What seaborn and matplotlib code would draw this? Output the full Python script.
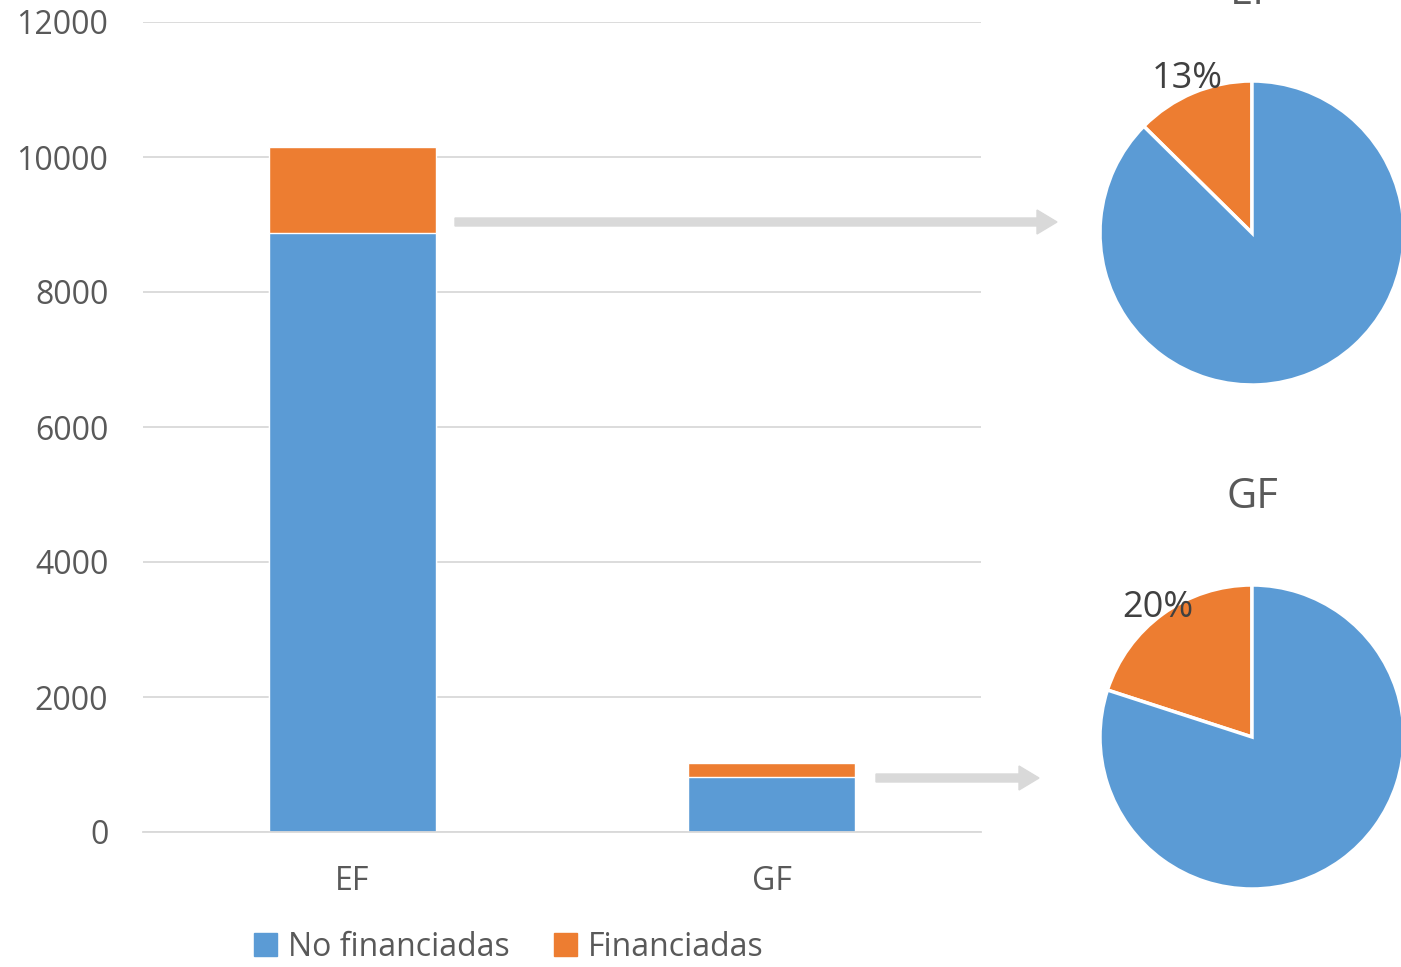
import matplotlib
matplotlib.use('Agg')
import matplotlib.pyplot as plt
import seaborn as sns
from matplotlib.patches import Patch, FancyArrow
from matplotlib.transforms import IdentityTransform

categories = ['EF', 'GF']
no_financiadas = [8870, 820]
financiadas = [1280, 205]
yticks = [0, 2000, 4000, 6000, 8000, 10000, 12000]

BLUE = '#5B9BD5'
ORANGE = '#ED7D31'
GREY = '#595959'

sns.set_style('white')
plt.rcParams['font.family'] = ['Open Sans', 'DejaVu Sans']

fig = plt.figure(figsize=(14.01, 9.67), dpi=100)

# stacked bars
ax = fig.add_axes([143/1401, 135/967, 838/1401, 810/967])
totals = [a + b for a, b in zip(no_financiadas, financiadas)]
sns.barplot(x=categories, y=totals, color=ORANGE, width=0.4, saturation=1, ax=ax)
sns.barplot(x=categories, y=no_financiadas, color=BLUE, width=0.4, saturation=1, ax=ax)
ax.set_xlim(-0.5, 1.5)
ax.set_ylim(0, 12000)
ax.set_yticks(yticks)
ax.set_yticklabels([str(t) for t in yticks])
ax.yaxis.grid(True, color='#D9D9D9', linewidth=1.3)
ax.set_axisbelow(True)
for s in ['top', 'right', 'left']:
    ax.spines[s].set_visible(False)
ax.spines['bottom'].set_color('#D9D9D9')
ax.spines['bottom'].set_linewidth(1.3)
ax.tick_params(axis='y', length=0, pad=25, labelsize=23, labelcolor=GREY)
ax.tick_params(axis='x', length=0, pad=24, labelsize=23, labelcolor=GREY)

fig.legend(handles=[Patch(color=BLUE, label='No financiadas'),
                    Patch(color=ORANGE, label='Financiadas')],
           loc='center', bbox_to_anchor=(509/1401, 20/967), ncol=2, frameon=False,
           fontsize=23, labelcolor=GREY, handlelength=0.7, handleheight=0.7,
           handletextpad=0.35, columnspacing=1.4)

# pies
def pie(cx, cy, r, idx, dist):
    pax = fig.add_axes([(cx - r)/1401, (967 - cy - r)/967, 2*r/1401, 2*r/967])
    vals = [financiadas[idx], no_financiadas[idx]]
    pax.pie(vals, colors=[ORANGE, BLUE], startangle=90, counterclock=True,
            wedgeprops=dict(edgecolor='white', linewidth=2.5),
            autopct=lambda p: f'{p:.0f}%' if p < 50 else '', pctdistance=dist,
            textprops=dict(fontsize=26, color='#404040'))
    pax.set_xlim(-1, 1)
    pax.set_ylim(-1, 1)
    pax.set_aspect('equal')
    pax.text(0, 1.58, categories[idx], ha='center', va='center', fontsize=30,
             color=GREY, clip_on=False)
    for t in pax.texts:
        t.set_clip_on(False)
    for p in pax.patches:
        p.set_clip_on(False)

pie(1252, 233, 152, 0, 1.1)
pie(1252, 737, 152, 1, 1.05)

# connector arrows (display pixels)
for x0, x1, y in [(455, 1057, 222), (876, 1039, 778)]:
    fig.patches.append(FancyArrow(x0, 967 - y, x1 - x0, 0, width=8, head_width=24,
                                  head_length=20, length_includes_head=True,
                                  color='#D9D9D9', transform=IdentityTransform()))

fig.savefig('out.png', dpi=100)
